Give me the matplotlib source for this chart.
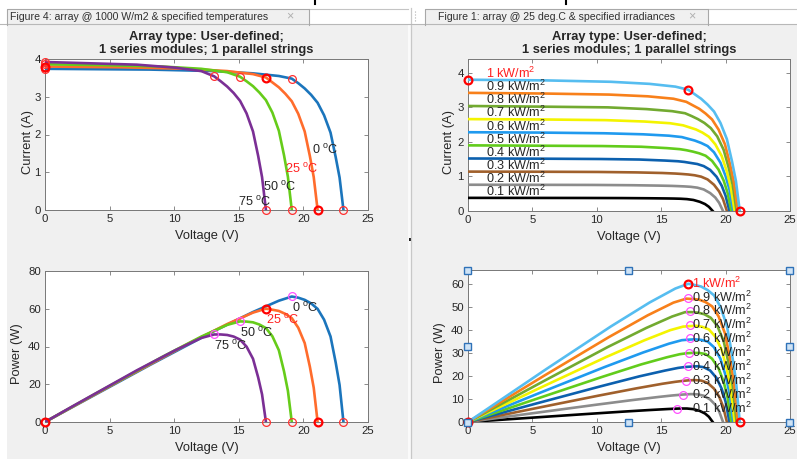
import matplotlib
matplotlib.use('Agg')
import matplotlib.pyplot as plt
from matplotlib.patches import Rectangle

plt.rcParams['font.family'] = ['Liberation Sans', 'DejaVu Sans']
plt.rcParams['mathtext.fontset'] = 'custom'
plt.rcParams['mathtext.rm'] = 'Liberation Sans'
plt.rcParams['mathtext.it'] = 'Liberation Sans:italic'
plt.rcParams['mathtext.bf'] = 'Liberation Sans:bold'

# ---------------- data: array @ 1000 W/m2, various temperatures ----------------
temp_labels = ['0', '25', '50', '75']
temp_v = [
    [0, 8.1, 13.1, 16.1, 18.1, 19.1, 19.6, 20.1, 20.6, 21.1, 21.6, 22.1, 22.5, 22.8, 23.1],
    [0, 6.1, 11.1, 14.1, 16.1, 17.1, 17.6, 18.1, 18.6, 19.1, 19.6, 20.1, 20.5, 20.8, 21.1],
    [0, 4.1, 9.1, 12.1, 14.1, 15.1, 15.6, 16.1, 16.6, 17.1, 17.6, 18.1, 18.5, 18.8, 19.1],
    [0, 2.1, 7.1, 10.1, 12.1, 13.1, 13.6, 14.1, 14.6, 15.1, 15.6, 16.1, 16.5, 16.8, 17.1],
]
temp_i = [
    [3.74, 3.72, 3.68, 3.62, 3.55, 3.48, 3.36, 3.22, 3.05, 2.84, 2.51, 2.05, 1.40, 0.86, 0],
    [3.80, 3.78, 3.74, 3.68, 3.60, 3.51, 3.38, 3.25, 3.08, 2.88, 2.55, 2.08, 1.43, 0.87, 0],
    [3.86, 3.84, 3.80, 3.74, 3.65, 3.53, 3.41, 3.28, 3.11, 2.91, 2.58, 2.10, 1.45, 0.88, 0],
    [3.92, 3.90, 3.85, 3.77, 3.68, 3.54, 3.41, 3.27, 3.10, 2.89, 2.56, 2.08, 1.43, 0.87, 0],
]
temp_vmp = [19.1, 17.1, 15.1, 13.1]
temp_pmp = [66.5, 60.0, 53.4, 46.4]

# ---------------- data: array @ 25 deg.C, various irradiances ----------------
irr_labels = ['0.1', '0.2', '0.3', '0.4', '0.5', '0.6', '0.7', '0.8', '0.9', '1']
irr_v = [
    [0, 4.0, 9.0, 12.0, 14.0, 15.0, 15.5, 16.0, 16.5, 17.0, 17.5, 18.0, 18.4, 18.7, 19.0],
    [0, 4.8, 9.8, 12.8, 14.8, 15.8, 16.3, 16.8, 17.3, 17.8, 18.3, 18.8, 19.2, 19.5, 19.8],
    [0, 5.1, 10.1, 13.1, 15.1, 16.1, 16.6, 17.1, 17.6, 18.1, 18.6, 19.1, 19.5, 19.8, 20.1],
    [0, 5.3, 10.3, 13.3, 15.3, 16.3, 16.8, 17.3, 17.8, 18.3, 18.8, 19.3, 19.7, 20.0, 20.3],
    [0, 5.45, 10.45, 13.45, 15.45, 16.45, 16.95, 17.45, 17.95, 18.45, 18.95, 19.45, 19.85, 20.15, 20.45],
    [0, 5.6, 10.6, 13.6, 15.6, 16.6, 17.1, 17.6, 18.1, 18.6, 19.1, 19.6, 20.0, 20.3, 20.6],
    [0, 5.7, 10.7, 13.7, 15.7, 16.7, 17.2, 17.7, 18.2, 18.7, 19.2, 19.7, 20.1, 20.4, 20.7],
    [0, 5.85, 10.85, 13.85, 15.85, 16.85, 17.35, 17.85, 18.35, 18.85, 19.35, 19.85, 20.25, 20.55, 20.85],
    [0, 5.95, 10.95, 13.95, 15.95, 16.95, 17.45, 17.95, 18.45, 18.95, 19.45, 19.95, 20.35, 20.65, 20.95],
    [0, 6.1, 11.1, 14.1, 16.1, 17.1, 17.6, 18.1, 18.6, 19.1, 19.6, 20.1, 20.5, 20.8, 21.1],
]
irr_i = [
    [0.380, 0.379, 0.377, 0.374, 0.369, 0.365, 0.363, 0.360, 0.355, 0.344, 0.319, 0.266, 0.201, 0.122, 0],
    [0.76, 0.758, 0.754, 0.746, 0.735, 0.727, 0.720, 0.712, 0.700, 0.676, 0.624, 0.519, 0.390, 0.236, 0],
    [1.14, 1.137, 1.13, 1.117, 1.10, 1.084, 1.072, 1.057, 1.034, 0.994, 0.914, 0.759, 0.565, 0.342, 0],
    [1.52, 1.515, 1.505, 1.49, 1.46, 1.44, 1.42, 1.39, 1.36, 1.30, 1.19, 0.99, 0.73, 0.44, 0],
    [1.90, 1.89, 1.88, 1.86, 1.82, 1.79, 1.76, 1.72, 1.67, 1.60, 1.45, 1.20, 0.88, 0.53, 0],
    [2.28, 2.27, 2.25, 2.22, 2.18, 2.14, 2.09, 2.04, 1.97, 1.88, 1.70, 1.40, 1.01, 0.62, 0],
    [2.66, 2.65, 2.63, 2.59, 2.54, 2.48, 2.42, 2.36, 2.27, 2.15, 1.93, 1.59, 1.14, 0.69, 0],
    [3.04, 3.02, 3.00, 2.95, 2.89, 2.83, 2.75, 2.66, 2.55, 2.40, 2.16, 1.77, 1.24, 0.76, 0],
    [3.42, 3.40, 3.37, 3.32, 3.25, 3.16, 3.06, 2.96, 2.82, 2.65, 2.36, 1.93, 1.34, 0.82, 0],
    [3.80, 3.78, 3.74, 3.68, 3.60, 3.51, 3.38, 3.25, 3.08, 2.88, 2.55, 2.08, 1.43, 0.87, 0],
]
irr_vmp = [16.2, 16.7, 16.9, 17.05, 17.15, 17.2, 17.2, 17.2, 17.05, 17.1]
irr_pmp = [5.8, 11.8, 18.0, 24.1, 30.1, 36.3, 42.3, 48.2, 54.0, 60.0]

x_ticks = [0, 5, 10, 15, 20, 25]

# ---------------- styles ----------------
temp_colors = ['#1b75bc', '#ff6c2c', '#66cc1a', '#7b2f95']
irr_colors = ['#000000', '#8c8c8c', '#a0602c', '#0c60ae', '#62cc1c',
              '#1f9aef', '#f4f400', '#72aa30', '#f8801a', '#56bdf0']
LW = 1.9
AXC = '#777777'
TXT = '#262626'
W, H = 797, 459

fig = plt.figure(figsize=(W / 100, H / 100), dpi=100, facecolor='#f0f0f0')


def add_ax(l, t, r, b):
    return fig.add_axes([l / W, 1 - b / H, (r - l) / W, (b - t) / H])


def style(ax, ylim, yticks, xlabel, ylabel, ylab_dx, wpx, hpx):
    ax.set_xlim(0, 25)
    ax.set_ylim(*ylim)
    ax.set_xticks(x_ticks)
    ax.set_yticks(yticks)
    ax.tick_params(direction='in', top=True, right=True, length=3, width=0.6,
                   colors=AXC, labelcolor=TXT, labelsize=8.2, pad=3)
    for s in ax.spines.values():
        s.set_color(AXC)
        s.set_linewidth(0.7)
    ax.set_xlabel(xlabel, fontsize=9.3, color=TXT)
    ax.set_ylabel(ylabel, fontsize=9.3, color=TXT)
    ax.xaxis.set_label_coords(0.5, -26 / hpx)
    ax.xaxis.label.set_va('center')
    ax.yaxis.set_label_coords(-ylab_dx / wpx, 0.5 - 7 / hpx)
    ax.yaxis.label.set_va('center')


def thin_circle(ax, x, y, color='#ff3030'):
    ax.plot([x], [y], 'o', ms=5.6, mfc='none', mec=color, mew=0.9, clip_on=False, zorder=5)


def thick_circle(ax, x, y):
    ax.plot([x], [y], 'o', ms=5.6, mfc='none', mec='#ff0000', mew=1.6, clip_on=False, zorder=6)


deg = r' $^{\mathrm{o}}$C'
kwm = r' kW/m$^{\mathrm{2}}$'
LBL = 9.1

# ---------------- top-left: I-V vs temperature ----------------
ax1 = add_ax(45, 59, 368, 210)
for k in range(4):
    ax1.plot(temp_v[k], temp_i[k], color=temp_colors[k], lw=LW, zorder=3)
for k in range(4):
    isc, voc = temp_i[k][0], temp_v[k][-1]
    imp = temp_pmp[k] / temp_vmp[k]
    for (x, y) in [(0, isc), (temp_vmp[k], imp), (voc, 0)]:
        if k == 1:
            thick_circle(ax1, x, y)
        else:
            thin_circle(ax1, x, y)
tl_pos = [(20.65, 1.48), (18.6, 0.97), (16.85, 0.51), (14.95, 0.11)]
for k in range(4):
    ax1.text(tl_pos[k][0], tl_pos[k][1], temp_labels[k] + deg, fontsize=LBL,
             color='#ff2020' if k == 1 else TXT, va='baseline', ha='left', zorder=7)
style(ax1, (0, 4), [0, 1, 2, 3, 4], 'Voltage (V)', 'Current (A)', 17, 323, 151)

# ---------------- bottom-left: P-V vs temperature ----------------
ax2 = add_ax(45, 271, 368, 422)
for k in range(4):
    ax2.plot(temp_v[k], [v * i for v, i in zip(temp_v[k], temp_i[k])],
             color=temp_colors[k], lw=LW, zorder=3)
for k in range(4):
    voc = temp_v[k][-1]
    if k == 1:
        thick_circle(ax2, temp_vmp[k], temp_pmp[k])
        thick_circle(ax2, voc, 0)
        thick_circle(ax2, 0, 0)
    else:
        thin_circle(ax2, temp_vmp[k], temp_pmp[k], '#ff50ff')
        thin_circle(ax2, voc, 0)
for k in range(4):
    ax2.text(temp_vmp[k], temp_pmp[k] - 8.2, temp_labels[k] + deg, fontsize=LBL,
             color='#ff2020' if k == 1 else TXT, va='baseline', ha='left', zorder=7)
style(ax2, (0, 80), [0, 20, 40, 60, 80], 'Voltage (V)', 'Power (W)', 28, 323, 151)

# ---------------- top-right: I-V vs irradiance ----------------
ax3 = add_ax(468, 59, 790, 211)
for k in range(10):
    ax3.plot(irr_v[k], irr_i[k], color=irr_colors[k], lw=LW, zorder=3)
k = 9
thick_circle(ax3, 0, irr_i[k][0])
thick_circle(ax3, irr_vmp[k], irr_pmp[k] / irr_vmp[k])
thick_circle(ax3, irr_v[k][-1], 0)
for k in range(10):
    ax3.text(1.4, irr_i[k][0] + 0.05, irr_labels[k] + kwm, fontsize=LBL,
             color='#ff2020' if k == 9 else TXT, va='baseline', ha='left', zorder=7)
style(ax3, (0, 4.4), [0, 1, 2, 3, 4], 'Voltage (V)', 'Current (A)', 19, 322, 152)

# ---------------- bottom-right: P-V vs irradiance ----------------
ax4 = add_ax(468, 270, 790, 422)
for k in range(10):
    ax4.plot(irr_v[k], [v * i for v, i in zip(irr_v[k], irr_i[k])],
             color=irr_colors[k], lw=LW, zorder=3)
for k in range(9):
    thin_circle(ax4, irr_vmp[k], irr_pmp[k], '#ff50ff')
thick_circle(ax4, irr_vmp[9], irr_pmp[9])
thick_circle(ax4, 0, 0)
thick_circle(ax4, irr_v[9][-1], 0)
for k in range(10):
    ax4.text(17.4, irr_pmp[k] - 1.9, irr_labels[k] + kwm, fontsize=LBL,
             color='#ff2020' if k == 9 else TXT, va='baseline', ha='left', zorder=7)
style(ax4, (0, 66), [0, 10, 20, 30, 40, 50, 60], 'Voltage (V)', 'Power (W)', 28, 322, 152)

# ---------------- titles ----------------
for cx in (206.5, 629):
    fig.text(cx / W, 1 - 37 / H, 'Array type: User-defined;', ha='center', va='center',
             fontsize=9.3, fontweight='bold', color=TXT)
    fig.text(cx / W, 1 - 50 / H, '1 series modules; 1 parallel strings', ha='center',
             va='center', fontsize=9.3, fontweight='bold', color=TXT)

# ---------------- window chrome (overlay in pixel coords) ----------------
ov = fig.add_axes([0, 0, 1, 1], zorder=10)
ov.set_xlim(0, W)
ov.set_ylim(H, 0)
ov.axis('off')
ov.patch.set_alpha(0)
ov.add_patch(Rectangle((0, 0), W, 24, fc='white', ec='none'))
ov.add_patch(Rectangle((0, 0), 7, H, fc='white', ec='none'))
ov.add_patch(Rectangle((408, 24), 3, H, fc='#fafafa', ec='none'))
ov.plot([411.5, 411.5], [8, H], color='#c8c8c8', lw=0.9)
ov.plot([0, W], [24, 24], color='#b8b8b8', lw=0.8)
ov.plot([309, 408], [8.5, 8.5], color='#c4c4c4', lw=0.8)
ov.plot([708, W], [8.5, 8.5], color='#c4c4c4', lw=0.8)
for (l, r) in [(7, 309), (425, 708)]:
    ov.add_patch(Rectangle((l, 8.5), r - l, 17, fc='#f0f0f0', ec='none'))
    ov.plot([l, l, r, r], [25, 8.5, 8.5, 25], color='#a8a8a8', lw=0.8)
ov.text(10, 16.5, 'Figure 4: array @ 1000 W/m2 & specified temperatures', fontsize=7.6,
        color='#303030', va='center', ha='left')
ov.text(438, 16.5, 'Figure 1: array @ 25 deg.C & specified irradiances', fontsize=7.6,
        color='#303030', va='center', ha='left')
ov.text(290, 16.5, '\u00d7', fontsize=9, color='#b0b0b0', va='center', ha='center')
ov.text(692, 16.5, '\u00d7', fontsize=9, color='#b0b0b0', va='center', ha='center')
ov.plot([415, 415], [11, 22], color='#b0b0b0', lw=0.8, ls=':')
ov.plot([315, 315], [0, 4], color='black', lw=1.5)
ov.plot([566, 566], [0, 4], color='black', lw=1.5)
ov.add_patch(Rectangle((409, 237.5), 3, 3, fc='#202020', ec='none'))
# selection handles around bottom-right axes
for (x, y) in [(468, 270), (629, 270), (790, 270), (468, 346), (790, 346),
               (468, 422), (629, 422), (790, 422)]:
    ov.add_patch(Rectangle((x - 3.5, y - 3.5), 7, 7, fc='#cfe3f5', ec='#2f72b8', lw=1))

fig.savefig('out.png', dpi=100, facecolor=fig.get_facecolor())
